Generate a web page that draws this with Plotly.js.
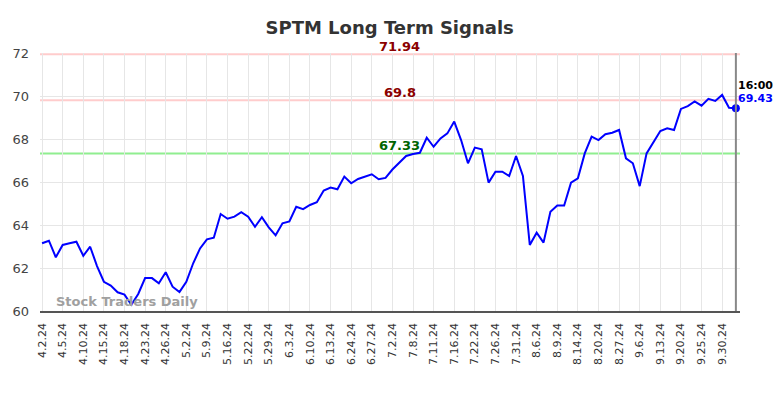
<!DOCTYPE html>
<html>
<head>
<meta charset="utf-8">
<script src="https://cdn.plot.ly/plotly-3.0.1.min.js"></script>
<style>html,body{margin:0;padding:0;background:#fff;}#chart{width:784px;height:398px;}</style>
</head>
<body>
<div id="chart"></div>
<script>
const dates = ["4.2.24","4.3.24","4.4.24","4.5.24","4.8.24","4.9.24","4.10.24","4.11.24","4.12.24","4.15.24","4.16.24","4.17.24","4.18.24","4.19.24","4.22.24","4.23.24","4.24.24","4.25.24","4.26.24","4.29.24","5.1.24","5.2.24","5.6.24","5.8.24","5.9.24","5.13.24","5.15.24","5.16.24","5.20.24","5.21.24","5.22.24","5.24.24","5.28.24","5.29.24","5.30.24","5.31.24","6.3.24","6.5.24","6.7.24","6.10.24","6.11.24","6.12.24","6.13.24","6.18.24","6.21.24","6.24.24","6.25.24","6.26.24","6.27.24","6.28.24","7.1.24","7.2.24","7.3.24","7.5.24","7.8.24","7.9.24","7.10.24","7.11.24","7.12.24","7.15.24","7.16.24","7.18.24","7.19.24","7.22.24","7.23.24","7.25.24","7.26.24","7.29.24","7.30.24","7.31.24","8.1.24","8.5.24","8.6.24","8.7.24","8.8.24","8.9.24","8.12.24","8.13.24","8.14.24","8.15.24","8.19.24","8.20.24","8.22.24","8.26.24","8.27.24","8.29.24","9.4.24","9.6.24","9.9.24","9.11.24","9.13.24","9.16.24","9.18.24","9.20.24","9.23.24","9.24.24","9.25.24","9.26.24","9.27.24","9.30.24","10.1.24","10.2.24"];
const prices = [63.15,63.27,62.50,63.07,63.15,63.22,62.57,62.99,62.09,61.36,61.18,60.87,60.76,60.29,60.79,61.53,61.53,61.29,61.80,61.13,60.88,61.36,62.22,62.91,63.33,63.41,64.51,64.29,64.39,64.60,64.39,63.92,64.36,63.89,63.52,64.08,64.17,64.85,64.74,64.93,65.06,65.60,65.74,65.66,66.25,65.94,66.14,66.25,66.36,66.13,66.19,66.58,66.90,67.21,67.30,67.36,68.06,67.64,68.03,68.26,68.81,67.95,66.87,67.60,67.52,65.97,66.48,66.48,66.28,67.21,66.28,63.07,63.64,63.18,64.62,64.91,64.91,65.97,66.17,67.33,68.11,67.95,68.22,68.29,68.42,67.10,66.87,65.81,67.33,67.88,68.37,68.50,68.42,69.40,69.53,69.75,69.55,69.87,69.77,70.05,69.45,69.43];
const tickLabels = ["4.2.24","4.5.24","4.10.24","4.15.24","4.18.24","4.23.24","4.26.24","5.2.24","5.9.24","5.16.24","5.22.24","5.29.24","6.3.24","6.10.24","6.13.24","6.24.24","6.27.24","7.2.24","7.8.24","7.11.24","7.16.24","7.22.24","7.26.24","7.31.24","8.6.24","8.9.24","8.14.24","8.20.24","8.27.24","9.6.24","9.13.24","9.20.24","9.25.24","9.30.24"];
const upperSignals = [71.94, 69.8];
const lowerSignals = [67.33];
const lastTime = "16:00";

const lastIdx = prices.length - 1;
const lastDate = dates[lastIdx];
const lastPrice = prices[lastIdx];

const traces = [
  {x: dates, y: prices, type: 'scatter', mode: 'lines', line: {color: '#0000ff', width: 2}, hoverinfo: 'skip'},
  {x: [lastDate], y: [lastPrice], type: 'scatter', mode: 'markers', marker: {color: '#0000ff', size: 8}, hoverinfo: 'skip'}
];

const shapes = [];
const annotations = [];
upperSignals.forEach(v => {
  shapes.push({type: 'line', xref: 'paper', x0: 0, x1: 1, yref: 'y', y0: v, y1: v, line: {color: '#ffcccc', width: 2}, layer: 'below'});
  annotations.push({xref: 'paper', x: 0.514, yref: 'y', y: v, yanchor: 'bottom', yshift: -2, text: '<b>' + v + '</b>', showarrow: false, font: {family: 'DejaVu Sans', size: 13, color: '#8b0000'}});
});
lowerSignals.forEach(v => {
  shapes.push({type: 'line', xref: 'paper', x0: 0, x1: 1, yref: 'y', y0: v, y1: v, line: {color: '#90ee90', width: 2}, layer: 'below'});
  annotations.push({xref: 'paper', x: 0.514, yref: 'y', y: v, yanchor: 'bottom', yshift: -2, text: '<b>' + v + '</b>', showarrow: false, font: {family: 'DejaVu Sans', size: 13, color: '#006400'}});
});
shapes.push({type: 'line', xref: 'x', x0: lastDate, x1: lastDate, yref: 'paper', y0: 0, y1: 1, line: {color: '#888888', width: 2}});

annotations.push({xref: 'x', x: lastDate, yref: 'y', y: lastPrice, xanchor: 'left', yanchor: 'bottom', xshift: 0, yshift: 14, text: '<b>' + lastTime + '</b>', showarrow: false, font: {family: 'DejaVu Sans', size: 11, color: '#000000'}});
annotations.push({xref: 'x', x: lastDate, yref: 'y', y: lastPrice, xanchor: 'left', yanchor: 'bottom', xshift: 0, yshift: 1, text: '<b>' + lastPrice + '</b>', showarrow: false, font: {family: 'DejaVu Sans', size: 11, color: '#0000ff'}});
annotations.push({xref: 'paper', x: 0.02, yref: 'paper', y: 0.035, xanchor: 'left', yanchor: 'middle', text: '<b>Stock Traders Daily</b>', showarrow: false, font: {family: 'DejaVu Sans', size: 13, color: '#a0a0a0'}});

const layout = {
  width: 784, height: 398,
  margin: {l: 40, r: 44, t: 53, b: 87},
  paper_bgcolor: '#ffffff', plot_bgcolor: '#ffffff',
  showlegend: false,
  title: {text: '<b>SPTM Long Term Signals</b>', x: 0.497, xanchor: 'center', y: 0.93, yanchor: 'middle', font: {family: 'DejaVu Sans', size: 18, color: '#333333'}},
  xaxis: {type: 'category', range: [-0.3, lastIdx + 0.6], tickmode: 'array', tickvals: tickLabels, ticktext: tickLabels, tickangle: -90,
          showgrid: true, gridcolor: '#e6e6e6', gridwidth: 1, showline: true, linecolor: '#555555', linewidth: 1.5,
          ticks: '', ticklabelstandoff: 6, tickfont: {family: 'DejaVu Sans', size: 11, color: '#333333'}, zeroline: false, fixedrange: true},
  yaxis: {range: [60, 72], tickmode: 'array', tickvals: [60,62,64,66,68,70,72], showgrid: true, gridcolor: '#e6e6e6', gridwidth: 1,
          showline: false, zeroline: false, ticks: '', ticklabelstandoff: 10, tickfont: {family: 'DejaVu Sans', size: 13, color: '#444444'}, fixedrange: true},
  shapes: shapes,
  annotations: annotations
};

Plotly.newPlot('chart', traces, layout, {displayModeBar: false, staticPlot: true});
</script>
</body>
</html>
